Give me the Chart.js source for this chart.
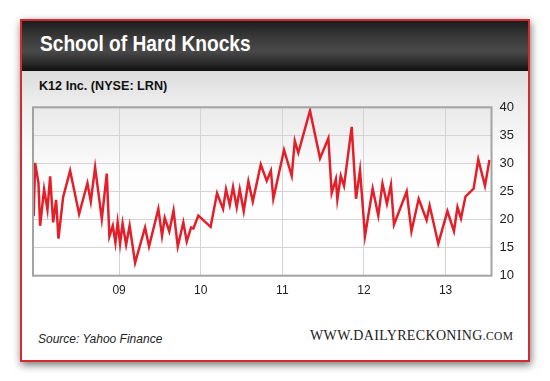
<!DOCTYPE html>
<html>
<head>
<meta charset="utf-8">
<script src="https://cdn.jsdelivr.net/npm/chart.js@4"></script>
<style>
    html, body { margin: 0; padding: 0; background: #fff; }
    body { width: 550px; height: 381px; position: relative; overflow: hidden; font-family: "Liberation Sans", Arial, sans-serif; }
    .card {
        position: absolute; left: 20px; top: 19px; width: 506px; height: 339px;
        border: 2px solid #d42a30;
        background: linear-gradient(to bottom, #dcdcdc 50px, #ececec 80px, #fafafa 130px, #fff 160px);
        box-shadow: 1px 3px 8px rgba(0, 0, 0, 0.55);
    }
    .header {
        position: absolute; left: 0; top: 0; width: 506px; height: 50px;
        background: linear-gradient(to bottom, #1c1c1c 0%, #3c3c3c 35%, #494949 60%, #2a2a2a 85%, #0e0e0e 100%);
    }
    .title, .subtitle, .source, .site { position: absolute; white-space: nowrap; }
    .title { left: 40px; top: 33px; font-size: 22px; line-height: 22px; font-weight: bold; color: #fff; transform: scaleX(0.87); transform-origin: left top; }
    .subtitle { left: 39px; top: 79px; font-size: 13px; line-height: 13px; font-weight: bold; color: #111; transform: scaleX(0.97); transform-origin: left top; }
    .source { left: 38px; top: 333px; font-size: 12px; line-height: 12px; font-style: italic; color: #222; }
    .site { left: 310px; top: 329px; font-family: "Liberation Serif", "Times New Roman", serif; font-size: 14px; line-height: 14px; color: #222; letter-spacing: 0.35px; }
    .site span { font-size: 11.5px; }
    #chart { position: absolute; left: 0; top: 0; }
</style>
</head>
<body>
<div class="card"><div class="header"></div></div>
<div class="title">School of Hard Knocks</div>
<div class="subtitle">K12 Inc. (NYSE: LRN)</div>
<div class="source">Source: Yahoo Finance</div>
<div class="site">WWW.DAILYRECKONING<span>.COM</span></div>
<canvas id="chart" width="550" height="381"></canvas>
<script>
// Data (dates as decimal years)
const tradeDates = [
    2007.953, 2007.971, 2008.012, 2008.032, 2008.081, 2008.122, 2008.155, 2008.192, 2008.228, 2008.257,
    2008.314, 2008.400, 2008.510, 2008.612, 2008.653, 2008.706, 2008.788, 2008.849, 2008.881, 2008.923,
    2008.955, 2008.982, 2009.012, 2009.043, 2009.086, 2009.129, 2009.196, 2009.318, 2009.367, 2009.481,
    2009.526, 2009.559, 2009.615, 2009.667, 2009.719, 2009.787, 2009.829, 2009.882, 2009.910, 2009.971,
    2010.121, 2010.200, 2010.274, 2010.310, 2010.356, 2010.396, 2010.441, 2010.478, 2010.527, 2010.584,
    2010.638, 2010.736, 2010.809, 2010.860, 2010.890, 2011.021, 2011.115, 2011.153, 2011.196, 2011.339,
    2011.462, 2011.564, 2011.605, 2011.656, 2011.674, 2011.716, 2011.756, 2011.850, 2011.903, 2011.952,
    2012.013, 2012.107, 2012.176, 2012.227, 2012.282, 2012.331, 2012.368, 2012.524, 2012.582, 2012.671,
    2012.768, 2012.805, 2012.911, 2013.023, 2013.103, 2013.146, 2013.189, 2013.244, 2013.344, 2013.401,
    2013.483, 2013.538
];
const closePrices = [
    20.6, 30.1, 26.5, 18.9, 25.4, 21.8, 27.7, 19.5, 23.5, 16.6,
    24.0, 28.7, 21.0, 26.5, 23.2, 29.3, 20.1, 28.2, 17.0, 18.9,
    15.9, 19.5, 15.7, 19.3, 15.5, 18.9, 12.3, 18.6, 15.2, 21.9,
    17.1, 20.3, 17.9, 21.6, 15.2, 19.5, 16.1, 18.6, 18.4, 20.7,
    18.7, 24.7, 21.9, 25.4, 22.6, 25.8, 22.2, 25.4, 21.5, 26.8,
    23.2, 29.8, 26.9, 28.7, 23.7, 32.4, 27.8, 34.0, 31.9, 39.4,
    30.9, 34.5, 24.7, 27.2, 23.6, 27.8, 26.0, 36.5, 23.7, 28.8,
    17.1, 25.5, 20.7, 26.4, 22.8, 26.2, 19.1, 25.0, 17.9, 23.7,
    19.9, 22.5, 15.7, 21.5, 17.9, 22.2, 20.2, 24.1, 25.5, 30.7,
    26.0, 30.6
];
const yearTicks = [2009, 2010, 2011, 2012, 2013];
const yearLabels = ['09', '10', '11', '12', '13'];
const priceTicks = [10, 15, 20, 25, 30, 35, 40];

// Plot background + frame
const plotFrame = {
    id: 'plotFrame',
    beforeDraw(chart) {
        const { ctx, chartArea: a } = chart;
        const g = ctx.createLinearGradient(0, a.top, 0, a.bottom);
        g.addColorStop(0, '#e9e9e9');
        g.addColorStop(0.4, '#fdfdfd');
        g.addColorStop(1, '#ffffff');
        ctx.save();
        ctx.fillStyle = g;
        ctx.fillRect(a.left, a.top, a.right - a.left, a.bottom - a.top);
        ctx.restore();
    },
    afterDraw(chart) {
        const { ctx, chartArea: a } = chart;
        ctx.save();
        ctx.strokeStyle = '#a3a3a3';
        ctx.lineWidth = 2;
        ctx.strokeRect(a.left, a.top, a.right - a.left, a.bottom - a.top);
        ctx.restore();
    }
};

new Chart(document.getElementById('chart').getContext('2d'), {
    type: 'line',
    data: {
        datasets: [{
            data: tradeDates.map((d, i) => ({ x: d, y: closePrices[i] })),
            borderColor: '#e3202a',
            borderWidth: 2.5,
            pointRadius: 0,
            tension: 0,
            fill: false
        }]
    },
    options: {
        responsive: false,
        animation: false,
        devicePixelRatio: 1,
        layout: { padding: { left: 33, top: 107.3, right: 0, bottom: 0 } },
        plugins: { legend: { display: false }, tooltip: { enabled: false } },
        scales: {
            x: {
                type: 'linear',
                position: 'bottom',
                min: 2007.945,
                max: 2013.563,
                afterBuildTicks: scale => { scale.ticks = yearTicks.map(v => ({ value: v })); },
                afterFit: scale => { scale.height = 105.3; },
                grid: { color: '#d4d4d4', lineWidth: 1, drawTicks: false },
                border: { display: false },
                ticks: {
                    padding: 8,
                    color: '#222',
                    font: { family: 'Liberation Sans, Arial', size: 12 },
                    maxRotation: 0,
                    callback: v => yearLabels[yearTicks.indexOf(v)]
                }
            },
            y: {
                position: 'right',
                min: 10,
                max: 40,
                afterBuildTicks: scale => { scale.ticks = priceTicks.map(v => ({ value: v })); },
                afterFit: scale => { scale.width = 58.5; },
                grid: { color: '#d4d4d4', lineWidth: 1, drawTicks: false },
                border: { display: false },
                ticks: {
                    padding: 8,
                    color: '#222',
                    font: { family: 'Liberation Sans, Arial', size: 13 }
                }
            }
        }
    },
    plugins: [plotFrame]
});
</script>
</body>
</html>
